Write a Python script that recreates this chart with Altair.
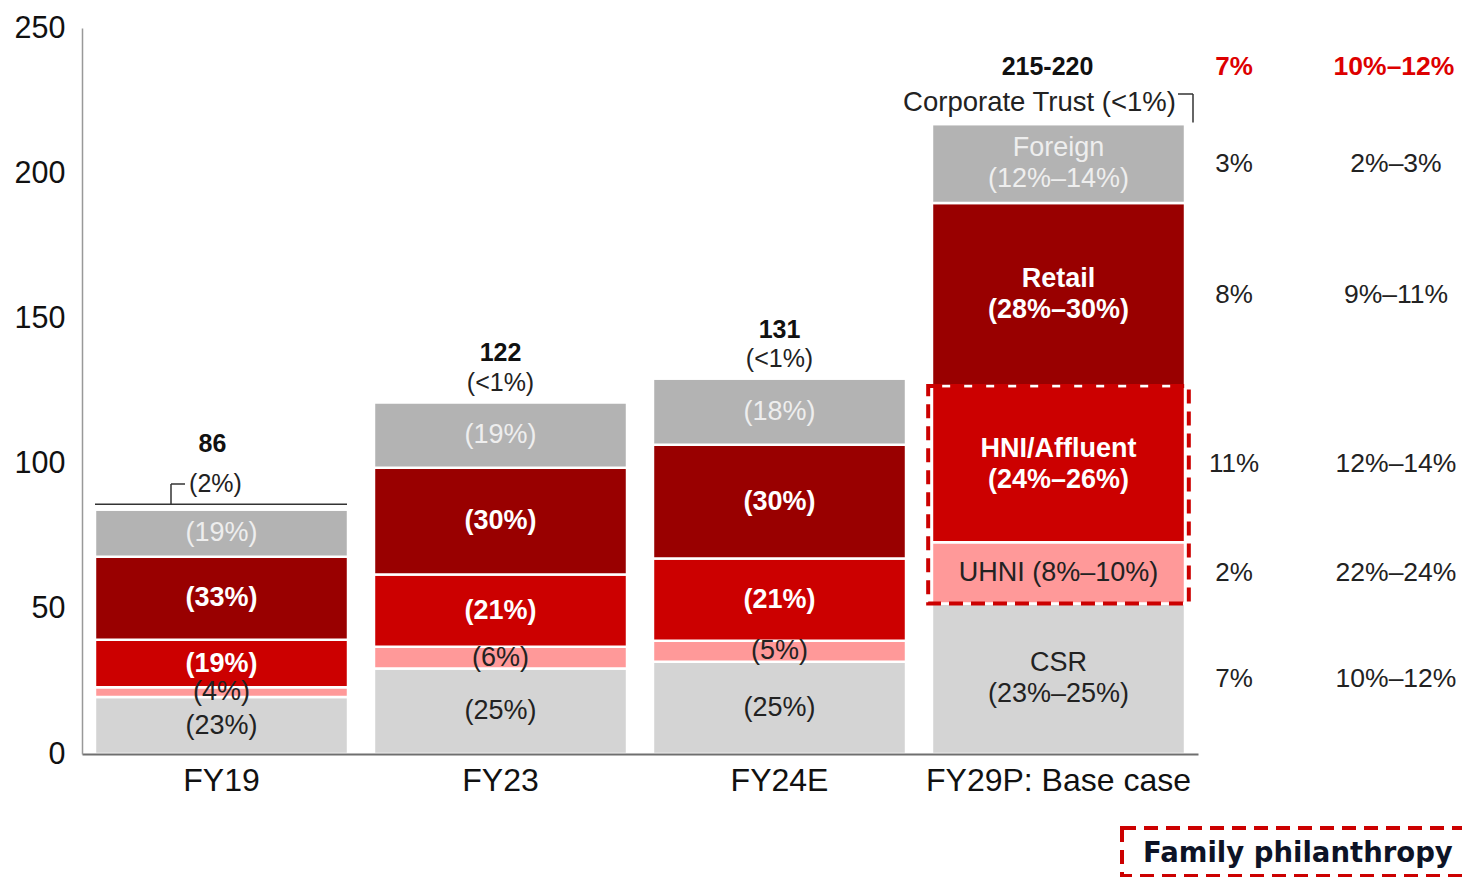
import altair as alt
import pandas as pd

# ---------------- data ----------------
categories = ["FY19", "FY23", "FY24E", "FY29P: Base case"]
segments = ["CSR", "UHNI", "HNI/Affluent", "Retail", "Foreign", "Corporate Trust"]

csr = [19.6, 29.4, 31.8, 51.8]
uhni = [3.4, 7.5, 7.2, 21.1]
hni = [16.3, 24.9, 28.3, 53.8]
retail = [28.6, 36.8, 39.2, 63.0]
foreign = [16.3, 22.5, 22.8, 27.2]
corp_trust = [1.8, 0.9, 1.7, 0.6]

lab_csr = ["(23%)", "(25%)", "(25%)", "CSR\n(23%–25%)"]
lab_uhni = ["(4%)", "(6%)", "(5%)", "UHNI (8%–10%)"]
lab_hni = ["(19%)", "(21%)", "(21%)", "HNI/Affluent\n(24%–26%)"]
lab_retail = ["(33%)", "(30%)", "(30%)", "Retail\n(28%–30%)"]
lab_foreign = ["(19%)", "(19%)", "(18%)", "Foreign\n(12%–14%)"]
lab_corp = ["", "", "", ""]

total_labels = ["86", "122", "131", "215-220"]
corp_labels = ["(2%)", "(<1%)", "(<1%)", "Corporate Trust (<1%)"]

# growth columns for the FY29P rows (CSR, UHNI, HNI/Affluent, Retail, Foreign)
cagr_a_header = "7%"
cagr_b_header = "10%–12%"
cagr_a = ["7%", "2%", "11%", "8%", "3%"]
cagr_b = ["10%–12%", "22%–24%", "12%–14%", "9%–11%", "2%–3%"]

legend_label = "Family philanthropy"

seg_colors = ["#d4d4d4", "#ff9999", "#cc0000", "#990000", "#b3b3b3", "#ffffff"]

values = [csr, uhni, hni, retail, foreign, corp_trust]
labels = [lab_csr, lab_uhni, lab_hni, lab_retail, lab_foreign, lab_corp]

rows = []
totals = []
for i, c in enumerate(categories):
    base = 0.0
    for k, s in enumerate(segments):
        v = values[k][i]
        lab = labels[k][i]
        rows.append(dict(cat=c, seg=s, k=k, y0=base, y1=base + v,
                         mid=base + v / 2, label=lab,
                         multi=("\n" in lab),
                         bold=(s in ("HNI/Affluent", "Retail"))))
        base += v
    totals.append(dict(cat=c, total=round(base, 2),
                       tlabel=total_labels[i], clabel=corp_labels[i]))
df = pd.DataFrame(rows)
df_tot = pd.DataFrame(totals)

last = categories[-1]
df_last = df[(df.cat == last) & (df.seg != "Corporate Trust")].copy()
df_last["ca"] = cagr_a
df_last["cb"] = cagr_b
df_last_tot = df_tot[df_tot.cat == last].copy()
df_last_tot["ca"] = cagr_a_header
df_last_tot["cb"] = cagr_b_header

FONT = "Liberation Sans"
TOP = 20
W, H = 1116, 726
LH = 31

xscale = alt.Scale(domain=categories, paddingInner=0.093, paddingOuter=0.0465)
yscale = alt.Scale(domain=[0, 250], nice=False)

X = alt.X("cat:N", scale=xscale, title=None,
          axis=alt.Axis(title=None, labelAngle=0, labelFontSize=32, labelFont=FONT,
                        labelColor="#111111", labelPadding=11, ticks=False, labelLimit=0,
                        domainColor="#6f6f6f", domainWidth=2, grid=False, zindex=1))
Xn = alt.X("cat:N", scale=xscale, title=None)


def Yn(field):
    return alt.Y(field, scale=yscale, title=None)


bars = alt.Chart(df).mark_bar(stroke="white", strokeWidth=2.5).encode(
    x=X,
    y=alt.Y("y0:Q", scale=yscale, title=None,
            axis=alt.Axis(title=None, values=[0, 50, 100, 150, 200, 250],
                          labelFontSize=30.5, labelFont=FONT, labelColor="#111111",
                          ticks=False, labelPadding=17, grid=False, zindex=1,
                          domainColor="#999999", domainWidth=1.5)),
    y2="y1:Q",
    color=alt.Color("seg:N", scale=alt.Scale(domain=segments, range=seg_colors), legend=None),
)

seg_labels = []
for is_bold in (True, False):
    for is_multi in (True, False):
        sub = df[(df.bold == is_bold) & (df.multi == is_multi) & (df.label != "")]
        if sub.empty:
            continue
        props = dict(font=FONT, fontSize=27, lineBreak="\n", lineHeight=LH,
                     baseline="middle", dy=(-LH / 2 if is_multi else 0))
        if is_bold:
            props["fontWeight"] = "bold"
        enc = dict(x=Xn, y=Yn("mid:Q"), text="label:N")
        if is_bold:
            enc["color"] = alt.value("white")
        else:
            enc["color"] = alt.condition("datum.seg == 'Foreign'",
                                         alt.value("#eeeeee"), alt.value("#222222"))
        seg_labels.append(alt.Chart(sub).mark_text(**props).encode(**enc))

# total and corporate-trust annotations above each bar
dy_total = [-60, -47, -44, -55]
dx_total = [-9, 0, 0, -11]
dy_corp = [-20, -17, -15, -19]
dx_corp = [-6, 0, 0, -19]
ann = []
for i, c in enumerate(categories):
    sub = df_tot[df_tot.cat == c]
    ann.append(alt.Chart(sub).mark_text(font=FONT, fontSize=25, fontWeight="bold",
                                        color="#111111", dy=dy_total[i], dx=dx_total[i]).encode(
        x=Xn, y=Yn("total:Q"), text="tlabel:N"))
    ann.append(alt.Chart(sub).mark_text(font=FONT, fontSize=25 if i < 3 else 27.5,
                                        color="#222222", dy=dy_corp[i], dx=dx_corp[i]).encode(
        x=Xn, y=Yn("total:Q"), text="clabel:N"))

one = pd.DataFrame({"a": [0]})
LINE = "#333333"
fy19_top = float(df_tot.total[0])
fy29_top = float(df_tot.total[3])
connectors = [
    alt.Chart(one).mark_rule(color=LINE, strokeWidth=1.5).encode(
        x=alt.value(13), x2=alt.value(265), y=alt.datum(fy19_top)),
    alt.Chart(one).mark_rule(color=LINE, strokeWidth=1.5).encode(
        x=alt.value(89), y=alt.datum(fy19_top), y2=alt.value(484 - 8 - TOP)),
    alt.Chart(one).mark_rule(color=LINE, strokeWidth=1.5).encode(
        x=alt.value(89), x2=alt.value(103), y=alt.value(484 - 8 - TOP)),
    alt.Chart(one).mark_rule(color=LINE, strokeWidth=1.5).encode(
        x=alt.value(1096), x2=alt.value(1111), y=alt.value(94 - 8 - TOP)),
    alt.Chart(one).mark_rule(color=LINE, strokeWidth=1.5).encode(
        x=alt.value(1111), y=alt.datum(fy29_top), y2=alt.value(94 - 8 - TOP)),
]

# dashed box around UHNI + HNI/Affluent of the last bar
box_df = pd.DataFrame([dict(cat=last,
                            lo=df_last[df_last.seg == "UHNI"].y0.iloc[0],
                            hi=df_last[df_last.seg == "HNI/Affluent"].y1.iloc[0])])
box = alt.Chart(box_df).mark_bar(
    fill="transparent", stroke="#cc0000", strokeWidth=4, strokeDash=[14, 8],
    width=alt.RelativeBandSize(1.03)).encode(
    x=Xn, y=Yn("lo:Q"), y2="hi:Q")

# growth columns
col_a = alt.Chart(df_last).mark_text(font=FONT, fontSize=26, color="#222222").encode(
    x=alt.value(1152), y=Yn("mid:Q"), text="ca:N")
col_b = alt.Chart(df_last).mark_text(font=FONT, fontSize=26.5, color="#222222").encode(
    x=alt.value(1314), y=Yn("mid:Q"), text="cb:N")
head_a = alt.Chart(df_last_tot).mark_text(font=FONT, fontSize=26, fontWeight="bold",
                                          color="#dd0000", dy=-55).encode(
    x=alt.value(1152), y=Yn("total:Q"), text="ca:N")
head_b = alt.Chart(df_last_tot).mark_text(font=FONT, fontSize=26.5, fontWeight="bold",
                                          color="#dd0000", dy=-55).encode(
    x=alt.value(1312), y=Yn("total:Q"), text="cb:N")

# legend box
leg_df = pd.DataFrame({"t": [legend_label]})
leg_box = alt.Chart(leg_df).mark_rect(
    fill="transparent", stroke="#cc0000", strokeWidth=4, strokeDash=[14, 8]).encode(
    x=alt.value(1040), x2=alt.value(1384), y=alt.value(828 - 8 - TOP), y2=alt.value(876 - 8 - TOP))
leg_txt = alt.Chart(leg_df).mark_text(font="DejaVu Sans", fontSize=27.5, fontWeight="bold",
                                      color="#0d1326", align="left", baseline="middle").encode(
    x=alt.value(1061), y=alt.value(854 - 8 - TOP), text="t:N")

chart = alt.layer(bars, *seg_labels, *ann, *connectors, box,
                  col_a, col_b, head_a, head_b, leg_box, leg_txt).properties(
    width=W, height=H,
    autosize=alt.AutoSizeParams(type="none"),
    padding={"left": 74, "top": TOP, "right": 264, "bottom": 123},
).configure_view(stroke=None).configure_axis(grid=False)

chart.save("out.html", embed_options={"renderer": "svg", "actions": False})
